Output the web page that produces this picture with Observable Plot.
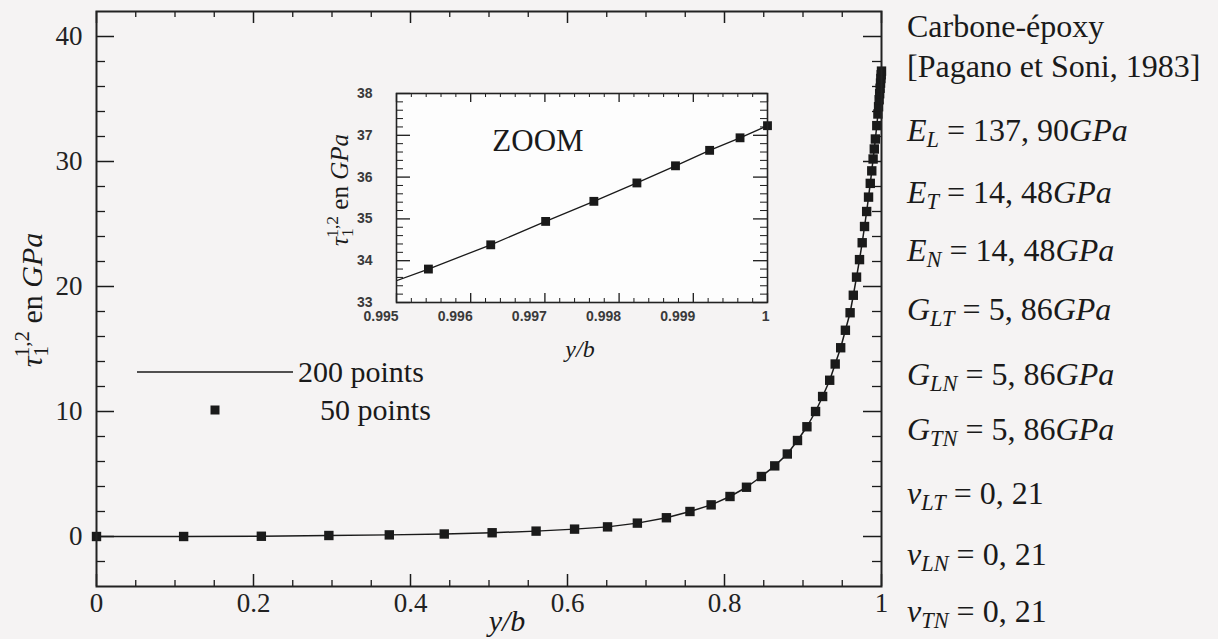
<!DOCTYPE html>
<html><head><meta charset="utf-8">
<script src="https://cdn.jsdelivr.net/npm/d3@7"></script>
<script src="https://cdn.jsdelivr.net/npm/@observablehq/plot@0.6"></script>
<style>
body{margin:0;background:#f5f3f3;}
#wrap{position:relative;width:1218px;height:639px;overflow:hidden;font-family:"Liberation Serif","DejaVu Serif",serif;}
#main,#inset,#overlay{position:absolute;left:0;top:0;}
#inset{left:320px;top:80px;}
#overlay{pointer-events:none;}
#overlay text{font-family:"Liberation Serif","DejaVu Serif",serif;}
#main svg text{font-family:"Liberation Serif","DejaVu Serif",serif;}
#inset svg text{font-family:"Liberation Sans","DejaVu Sans",sans-serif;}
</style></head><body><div id="wrap"><div id="main"></div><div id="inset"></div><svg id="overlay" width="1218" height="639"></svg></div>
<script>
// ---- data: y/b positions (50 points) and tau values ----
const yb50 = [0, 0.111, 0.210, 0.296, 0.373, 0.443, 0.504, 0.560, 0.609, 0.651,
  0.689, 0.726, 0.756, 0.783, 0.807, 0.828, 0.847, 0.864, 0.880, 0.893,
  0.905, 0.916, 0.925, 0.934, 0.941, 0.948, 0.954, 0.960, 0.9641, 0.9682,
  0.9720, 0.9754, 0.9784, 0.9811, 0.9835, 0.9857, 0.9876, 0.9893, 0.9908, 0.9922,
  0.9940, 0.99543, 0.99627, 0.99701, 0.99766, 0.99824, 0.99876, 0.99922, 0.99963, 1.0];
const tau50 = [0, 0.0, 0.02, 0.08, 0.13, 0.20, 0.30, 0.43, 0.59, 0.77,
  1.07, 1.5, 2.0, 2.53, 3.2, 3.94, 4.8, 5.65, 6.6, 7.68,
  8.78, 10.0, 11.2, 12.5, 13.8, 15.1, 16.5, 17.9, 19.3, 20.75,
  22.15, 23.5, 24.8, 26.0, 27.15, 28.25, 29.25, 30.2, 31.0, 31.8,
  32.87, 33.80, 34.38, 34.94, 35.42, 35.86, 36.27, 36.64, 36.94, 37.23];

// main axes ticks
const xMajor = [0, 0.2, 0.4, 0.6, 0.8, 1];
const xMinor = [0.05, 0.1, 0.15, 0.25, 0.3, 0.35, 0.45, 0.5, 0.55, 0.65, 0.7, 0.75, 0.85, 0.9, 0.95];
const yMajor = [0, 10, 20, 30, 40];
const yMinor = [-2, 2, 4, 6, 8, 12, 14, 16, 18, 22, 24, 26, 28, 32, 34, 36, 38];
const xDomain = [0, 1], yDomain = [-4, 42];

// inset axes
const insetXMajor = [0.995, 0.996, 0.997, 0.998, 0.999, 1];
const insetXLabels = ["0.995", "0.996", "0.997", "0.998", "0.999", "1"];
const insetYMajor = [33, 34, 35, 36, 37, 38];
const insetXDomain = [0.995, 1], insetYDomain = [33, 38];

// text
const legendLabels = ["200 points", "50 points"];
const params = [
  [{t:"Carbone-époxy"}],
  [{t:"[Pagano et Soni, 1983]"}],
  [{t:"E",i:1},{t:"L",i:1,sub:1},{t:" = 137, 90"},{t:"GPa",i:1}],
  [{t:"E",i:1},{t:"T",i:1,sub:1},{t:" = 14, 48"},{t:"GPa",i:1}],
  [{t:"E",i:1},{t:"N",i:1,sub:1},{t:" = 14, 48"},{t:"GPa",i:1}],
  [{t:"G",i:1},{t:"LT",i:1,sub:1},{t:" = 5, 86"},{t:"GPa",i:1}],
  [{t:"G",i:1},{t:"LN",i:1,sub:1},{t:" = 5, 86"},{t:"GPa",i:1}],
  [{t:"G",i:1},{t:"TN",i:1,sub:1},{t:" = 5, 86"},{t:"GPa",i:1}],
  [{t:"ν",i:1},{t:"LT",i:1,sub:1},{t:" = 0, 21"}],
  [{t:"ν",i:1},{t:"LN",i:1,sub:1},{t:" = 0, 21"}],
  [{t:"ν",i:1},{t:"TN",i:1,sub:1},{t:" = 0, 21"}]
];
const paramBaselines = [37, 77, 141, 203, 261, 320, 385, 440, 504, 565, 622];

const pts = yb50.map((x, i) => ({x, y: tau50[i]}));
const ink = "#1a1a1a";

// ---- main plot ----
const W = 1218, H = 639, mL = 96, mR = 337, mT = 11, mB = 53;
const pw = W - mL - mR, ph = H - mT - mB;
const main = Plot.plot({
  width: W, height: H, marginLeft: mL, marginRight: mR, marginTop: mT, marginBottom: mB,
  style: {background: "transparent", overflow: "visible", color: ink},
  x: {domain: xDomain}, y: {domain: yDomain},
  marks: [
    Plot.ruleY(yMinor, {insetRight: pw - 9, stroke: ink, strokeWidth: 1.3}),
    Plot.ruleY(yMajor, {insetRight: pw - 18, stroke: ink, strokeWidth: 1.5}),
    Plot.ruleY(yMinor, {insetLeft: pw - 9, stroke: ink, strokeWidth: 1.3}),
    Plot.ruleY(yMajor, {insetLeft: pw - 18, stroke: ink, strokeWidth: 1.5}),
    Plot.ruleX(xMinor, {insetTop: ph - 6, stroke: ink, strokeWidth: 1.3}),
    Plot.ruleX(xMajor, {insetTop: ph - 12, stroke: ink, strokeWidth: 1.5}),
    Plot.ruleX(xMinor, {insetBottom: ph - 6, stroke: ink, strokeWidth: 1.3}),
    Plot.ruleX(xMajor, {insetBottom: ph - 12, stroke: ink, strokeWidth: 1.5}),
    Plot.axisY(yMajor, {tickSize: 0, tickPadding: 14, fontSize: 27, fill: "#222", label: null, tickFormat: d => String(d)}),
    Plot.axisX(xMajor, {tickSize: 0, tickPadding: 6, fontSize: 27, fill: "#222", label: null, tickFormat: d => String(d)}),
    Plot.line(pts, {x: "x", y: "y", stroke: ink, strokeWidth: 1.5}),
    Plot.dot(pts, {x: "x", y: "y", symbol: "square", fill: ink, stroke: "none", r: 5.3}),
    Plot.frame({stroke: "#222", strokeWidth: 2})
  ]
});
document.getElementById("main").appendChild(main);

// ---- inset plot ----
const iW = 460, iH = 290, iL = 76, iT = 13, iR = 13, iB = 68;
const ipw = iW - iL - iR, iph = iH - iT - iB;
const insetXMinor = d3.range(0, 26).map(k => 0.995 + k * 0.0002).filter(v => !insetXMajor.some(m => Math.abs(m - v) < 1e-7));
const insetYMinor = d3.range(0, 26).map(k => 33 + k * 0.2).filter(v => !insetYMajor.some(m => Math.abs(m - v) < 1e-7));
const insetPts = pts.filter(d => d.x >= insetXDomain[0]);
const inset = Plot.plot({
  width: iW, height: iH, marginLeft: iL, marginRight: iR, marginTop: iT, marginBottom: iB,
  style: {background: "transparent", overflow: "visible", color: ink},
  x: {domain: insetXDomain}, y: {domain: insetYDomain},
  marks: [
    Plot.frame({fill: "#fdfdfd", stroke: "none"}),
    Plot.ruleY(insetYMinor, {insetRight: ipw - 7, stroke: ink, strokeWidth: 1}),
    Plot.ruleY(insetYMajor, {insetRight: ipw - 14, stroke: ink, strokeWidth: 1.3}),
    Plot.ruleY(insetYMinor, {insetLeft: ipw - 7, stroke: ink, strokeWidth: 1}),
    Plot.ruleY(insetYMajor, {insetLeft: ipw - 14, stroke: ink, strokeWidth: 1.3}),
    Plot.ruleX(insetXMinor, {insetTop: iph - 4, stroke: ink, strokeWidth: 1}),
    Plot.ruleX(insetXMajor, {insetTop: iph - 9, stroke: ink, strokeWidth: 1.3}),
    Plot.ruleX(insetXMinor, {insetBottom: iph - 4, stroke: ink, strokeWidth: 1}),
    Plot.ruleX(insetXMajor, {insetBottom: iph - 9, stroke: ink, strokeWidth: 1.3}),
    Plot.axisY(insetYMajor, {tickSize: 0, tickPadding: 24, fontSize: 14, fontWeight: "bold", fill: "#3a3a3a", label: null, tickFormat: d => String(d)}),
    Plot.axisX(insetXMajor, {tickSize: 0, tickPadding: 9, fontSize: 14, fontWeight: "bold", fill: "#3a3a3a", label: null, textAnchor: "end", dx: 2,
      tickFormat: d => insetXLabels[insetXMajor.indexOf(d)]}),
    Plot.line(pts, {x: "x", y: "y", stroke: ink, strokeWidth: 1.3, clip: true}),
    Plot.dot(insetPts, {x: "x", y: "y", symbol: "square", fill: ink, stroke: "none", r: 5}),
    Plot.frame({stroke: "#222", strokeWidth: 1.6})
  ]
});
document.getElementById("inset").appendChild(inset);

// ---- text overlay ----
const svg = d3.select("#overlay");
function rich(g, x, y, segs, size, attrs = {}) {
  const t = g.append("text").attr("x", x).attr("y", y)
    .style("font-size", size + "px").attr("fill", ink);
  Object.entries(attrs).forEach(([k, v]) => t.attr(k, v));
  let cur = 0;
  segs.forEach(s => {
    const target = s.sub ? 0.2 * size : s.sup ? -0.42 * size : 0;
    const sp = t.append("tspan").text(s.t).attr("dy", target - cur);
    if (s.dx) sp.attr("dx", s.dx);
    if (s.i) sp.style("font-style", "italic");
    if (s.sub || s.sup) sp.style("font-size", (size * 0.7) + "px");
    cur = target;
  });
  return t;
}
// right-hand parameters
params.forEach((segs, i) => rich(svg, 907, paramBaselines[i], segs, 32));

// axis labels
const tauLabel = size => [
  {t: "τ", i: 1}, {t: "1", sub: 1}, {t: "1,2", sup: 1, dx: -0.35 * size},
  {t: " en "}, {t: "GPa", i: 1}
];
rich(svg.append("g").attr("transform", "translate(42,300) rotate(-90)"), 0, 0, tauLabel(30), 30, {"text-anchor": "middle"});
rich(svg, 507, 631, [{t: "y/b", i: 1}], 30, {"text-anchor": "middle"});
// inset labels
rich(svg.append("g").attr("transform", "translate(348,190) rotate(-90)"), 0, 0, tauLabel(25), 25, {"text-anchor": "middle"});
rich(svg, 580, 357, [{t: "y/b", i: 1}], 24, {"text-anchor": "middle"});
rich(svg, 538, 151, [{t: "ZOOM"}], 31, {"text-anchor": "middle"});

// legend
svg.append("line").attr("x1", 137).attr("x2", 293).attr("y1", 372).attr("y2", 372).attr("stroke", ink).attr("stroke-width", 1.5);
svg.append("rect").attr("x", 210.5).attr("y", 405.5).attr("width", 9).attr("height", 9).attr("fill", ink);
rich(svg, 298, 382, [{t: legendLabels[0]}], 30);
rich(svg, 320, 420, [{t: legendLabels[1]}], 30);
</script></body></html>
